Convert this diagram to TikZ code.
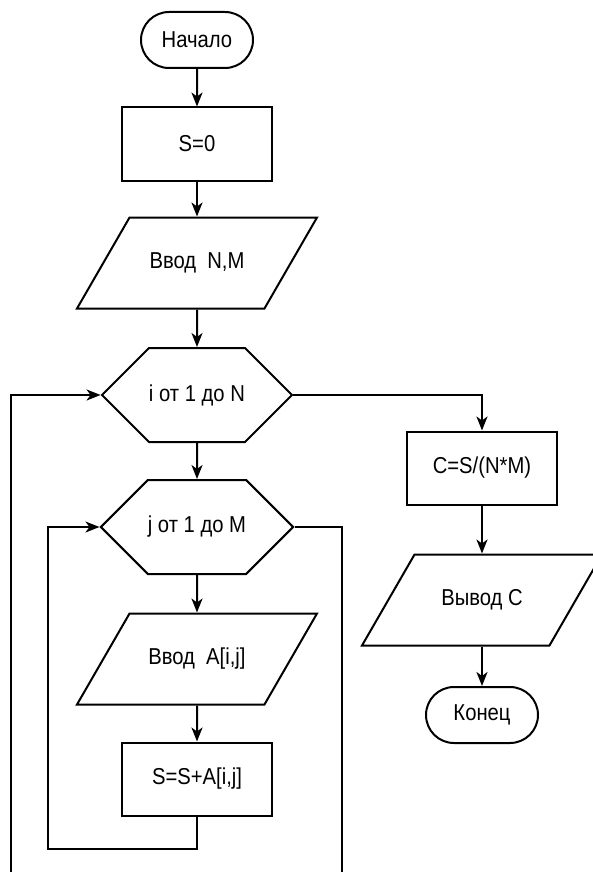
\documentclass[tikz,border=0pt]{standalone}
\usepackage{fontspec}
\setmainfont{Liberation Sans}[FakeStretch=0.88]
\usetikzlibrary{shapes.geometric,shapes.misc,shapes.symbols,arrows.meta}

\begin{document}
\begin{tikzpicture}[x=1pt,y=-1pt,
  every node/.style={font=\fontsize{23}{26}\selectfont,line width=2pt,inner sep=0},
  term/.style={rounded rectangle,draw,minimum width=112pt,minimum height=56pt},
  proc/.style={rectangle,draw,minimum width=150pt,minimum height=73pt},
  io/.style={trapezium,trapezium left angle=60,trapezium right angle=120,
    trapezium stretches body,text height=16pt,text depth=5pt,inner ysep=35pt,
    draw,minimum width=240pt},
  cycle/.style={signal,signal to=west and east,signal pointer angle=90,draw,
    minimum width=190pt,minimum height=94pt},
  flow/.style={line width=2pt,-{Stealth[length=14pt,width=11pt,inset=4pt]}},
  wire/.style={line width=2pt}]
  \useasboundingbox (0,0) rectangle (592,872);
  % main column
  \node [term] (start) at (197,40) {Начало};
  \node [proc] (s0) at (197,144) {S=0};
  \node [io] (inNM) at (197,263) {Ввод\ \ N,M};
  \node [cycle] (ihex) at (197,395) {i от 1 до N};
  \node [cycle] (jhex) at (197,527) {j от 1 до M};
  \node [io] (inA) at (197,659) {Ввод\ \ A[i,j]};
  \node [proc] (sum) at (197,779) {S=S+A[i,j]};
  % right column
  \node [proc] (calc) at (482,468) {C=S/(N*M)};
  \node [io] (outC) at (482,600) {Вывод C};
  \node [term] (finish) at (482,715) {Конец};
  % loop ends
  \coordinate (sumturn) at (48,849);
  \coordinate (jbot) at (342,872);
  \coordinate (ibot) at (11,872);

  \draw [flow] (start) -- (s0);
  \draw [flow] (s0) -- (inNM);
  \draw [flow] (inNM) -- (ihex);
  \draw [flow] (ihex) -- (jhex);
  \draw [flow] (jhex) -- (inA);
  \draw [flow] (inA) -- (sum);
  \draw [flow] (sum.south) |- (sumturn) |- (jhex.west);
  \draw [wire] (jhex.east) -| (jbot);
  \draw [flow] (ibot) |- (ihex.west);
  \draw [flow] (ihex.east) -| (calc.north);
  \draw [flow] (calc) -- (outC);
  \draw [flow] (outC) -- (finish);
\end{tikzpicture}
\end{document}
